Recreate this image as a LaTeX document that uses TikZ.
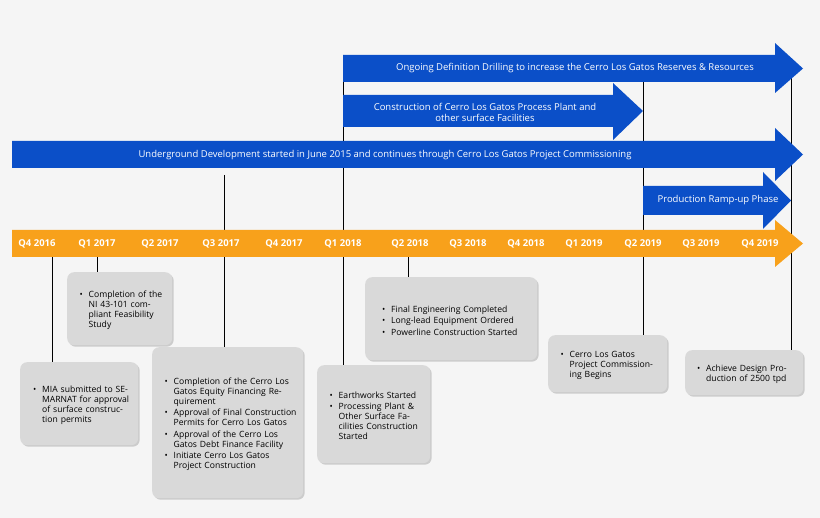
\documentclass[tikz,border=0pt]{standalone}
\usepackage{fontspec}
\setmainfont{Open Sans}
\usetikzlibrary{shadows}
\definecolor{bg}{HTML}{F5F5F5}
\definecolor{blu}{HTML}{0B4FC8}
\definecolor{org}{HTML}{F8A11B}
\definecolor{bx}{HTML}{D9D9D9}
\newcommand\itm[1]{\par\hangindent=15pt\hangafter=1\noindent\makebox[15pt][c]{\textbullet}#1\par\vspace{1.5pt}}
% x0 xh xtip ytop ybot headtop headbot
\newcommand\myarrow[8]{\fill[#8] (#1,-#4) -- (#2,-#4) -- (#2,-#6) -- (#3,{-(#4+#5)/2}) -- (#2,-#7) -- (#2,-#5) -- (#1,-#5) -- cycle;}
\begin{document}
\begin{tikzpicture}[x=1pt,y=1pt,
  lbl/.style={text=white,font=\fontsize{9.5}{11}\selectfont,inner sep=0},
  q/.style={text=white,font=\fontsize{9.5}{11}\selectfont\bfseries,inner sep=0},
  box/.style={fill=bx,rounded corners=7pt,drop shadow={opacity=0.35,shadow xshift=1.5pt,shadow yshift=-1.5pt},align=left,font=\fontsize{8.6}{10}\selectfont,inner sep=0},
  vl/.style={black,line width=0.8pt}]
\fill[bg] (0,0) rectangle (820,-518);
\useasboundingbox (0,0) rectangle (820,-518);
% vertical lines
\draw[vl] (343,-55) -- (343,-368);
\draw[vl] (643,-72) -- (643,-335);
\draw[vl] (791,-70) -- (791,-350);
\draw[vl] (224,-175) -- (224,-347);
\draw[vl] (52,-257) -- (52,-362);
\draw[vl] (97,-257) -- (97,-272);
\draw[vl] (408,-257) -- (408,-277);
% arrows
\myarrow{343}{775}{803}{55}{82}{43}{93}{blu}
\myarrow{343}{613}{643}{95}{127}{83}{140}{blu}
\myarrow{12}{775}{803}{141}{168}{128}{181}{blu}
\myarrow{643}{763}{791}{186}{215}{172}{229}{blu}
\myarrow{12}{775}{803}{230}{257}{220}{267}{org}
\node[lbl] (t1) at (575,-68.5) {Ongoing Definition Drilling to increase the Cerro Los Gatos Reserves \& Resources};
\node[lbl,align=center] (t2) at (485,-112) {Construction of Cerro Los Gatos Process Plant and\\other surface Facilities};
\node[lbl] (t3) at (385,-155) {Underground Development started in June 2015 and continues through Cerro Los Gatos Project Commissioning};
\node[lbl] (t4) at (718,-200.5) {Production Ramp-up Phase};
\foreach \x/\t [count=\i] in {37/Q4 2016,97/Q1 2017,160/Q2 2017,221/Q3 2017,284/Q4 2017,343/Q1 2018,410/Q2 2018,468/Q3 2018,526/Q4 2018,584/Q1 2019,643/Q2 2019,701/Q3 2019,760/Q4 2019}
  \node[q] (q\i) at (\x,-243.5) {\t};
% boxes
\node[box,minimum width=105pt,minimum height=73pt,anchor=north west,text width=92pt] (b1) at (67,-272) {\itm{Completion of the NI 43-101 compliant Feasibility Study}};
\node[box,minimum width=118pt,minimum height=83pt,anchor=north west,text width=104pt] (b2) at (20,-362) {\itm{MIA submitted to SEMARNAT for approval of surface construction permits}};
\node[box,minimum width=151pt,minimum height=151pt,anchor=north west,text width=138pt] (b3) at (152,-347) {\itm{Completion of the Cerro Los Gatos Equity Financing Requirement}\itm{Approval of Final Construction Permits for Cerro Los Gatos}\itm{Approval of the Cerro Los Gatos Debt Finance Facility}\itm{Initiate Cerro Los Gatos Project Construction}};
\node[box,minimum width=113pt,minimum height=98pt,anchor=north west,text width=100pt] (b4) at (317,-365) {\itm{Earthworks Started}\itm{Processing Plant \& Other Surface Facilities Construction Started}};
\node[box,minimum width=172pt,minimum height=83pt,anchor=north west,text width=150pt] (b5) at (365,-277) {\itm{Final Engineering Completed}\itm{Long-lead Equipment Ordered}\itm{Powerline Construction Started}};
\node[box,minimum width=119pt,minimum height=57pt,anchor=north west,text width=106pt] (b6) at (548,-335) {\itm{Cerro Los Gatos Project Commissioning Begins}};
\node[box,minimum width=118pt,minimum height=45pt,anchor=north west,text width=106pt] (b7) at (685,-350) {\itm{Achieve Design Production of 2500 tpd}};
\end{tikzpicture}
\end{document}
